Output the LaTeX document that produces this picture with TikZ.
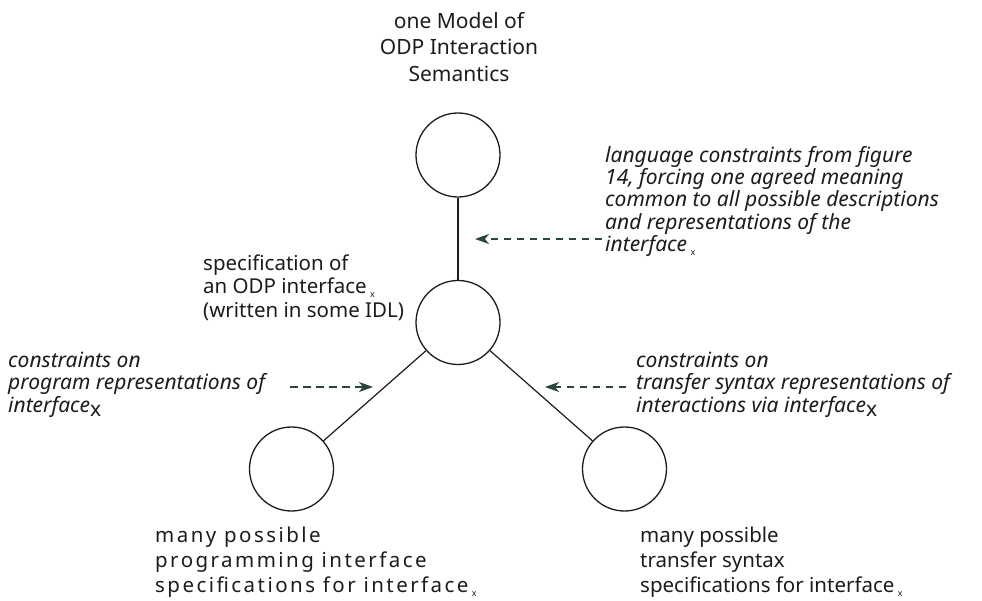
\documentclass[tikz,border=0pt]{standalone}
\usepackage{fontspec}
\setmainfont{Noto Sans}
\usetikzlibrary{arrows.meta}
\definecolor{inkc}{RGB}{28,28,28}
\definecolor{arrowc}{RGB}{42,68,62}
% small subscript after a space, and a larger one set close
\newcommand{\smx}{\,\raisebox{-0.35ex}{\fontsize{9}{9}\selectfont\upshape x}}
\newcommand{\bgx}{\raisebox{-0.4ex}{\upshape x}}
\begin{document}
\begin{tikzpicture}[x=1pt,y=-1pt,
  model/.style={circle,draw=inkc,line width=1.3pt,minimum size=84pt,inner sep=0pt},
  link/.style={draw=inkc,line width=1.2pt},
  hint/.style={draw=arrowc,line width=1.4pt,dash pattern=on 7.5pt off 5.5pt,
    -{Stealth[length=14pt,width=10pt,inset=4pt]}},
  lbl/.style={font=\fontsize{20.5}{23.5}\selectfont,align=left,inner sep=0pt,anchor=north west,text=inkc},
  note/.style={lbl,font=\fontsize{21}{22.3}\selectfont\itshape}]
\useasboundingbox (0,0) rectangle (982,601);

% the four models
\node[model] (sem) at (458,155) {};
\node[model] (spec) at (458,322.5) {};
\node[model] (prog) at (291.5,469) {};
\node[model] (xfer) at (624.5,469) {};

\draw[link] (sem) -- (spec);
\draw[link] (spec) -- (prog);
\draw[link] (spec) -- (xfer);

% labels of the models
\node[lbl,align=center,anchor=north,font=\fontsize{21}{26.5}\selectfont] (semL) at (459,12)
  {one Model of\\ODP Interaction\\Semantics};
\node[lbl] (specL) at (203,254.5) {specification of\\an ODP interface\smx\\(written in some IDL)};
\node[lbl,font=\fontsize{20.5}{25}\selectfont\addfontfeatures{LetterSpace=12}] (progL) at (155,527)
  {many possible\\programming interface\\specifications for interface\smx};
\node[lbl,font=\fontsize{20.5}{25}\selectfont] (xferL) at (640,527)
  {many possible\\transfer syntax\\specifications for interface\smx};

% constraint notes and their arrows
\node[note] (langN) at (605,146)
  {language constraints from figure\\14, forcing one agreed meaning\\common to all possible descriptions\\and representations of the\\interface\smx};
\node[note] (progN) at (8,352)
  {constraints on\\program representations of\\interface\bgx};
\node[note] (xferN) at (636,352)
  {constraints on\\transfer syntax representations of\\interactions via interface\bgx};

\coordinate (langT) at (475,239);
\coordinate (langS) at (602,239);
\coordinate (progT) at (373,387);
\coordinate (progS) at (290,387);
\coordinate (xferT) at (545,387);
\coordinate (xferS) at (626,387);
\draw[hint] (langS) -- (langT);
\draw[hint] (progS) -- (progT);
\draw[hint] (xferS) -- (xferT);
\end{tikzpicture}
\end{document}
